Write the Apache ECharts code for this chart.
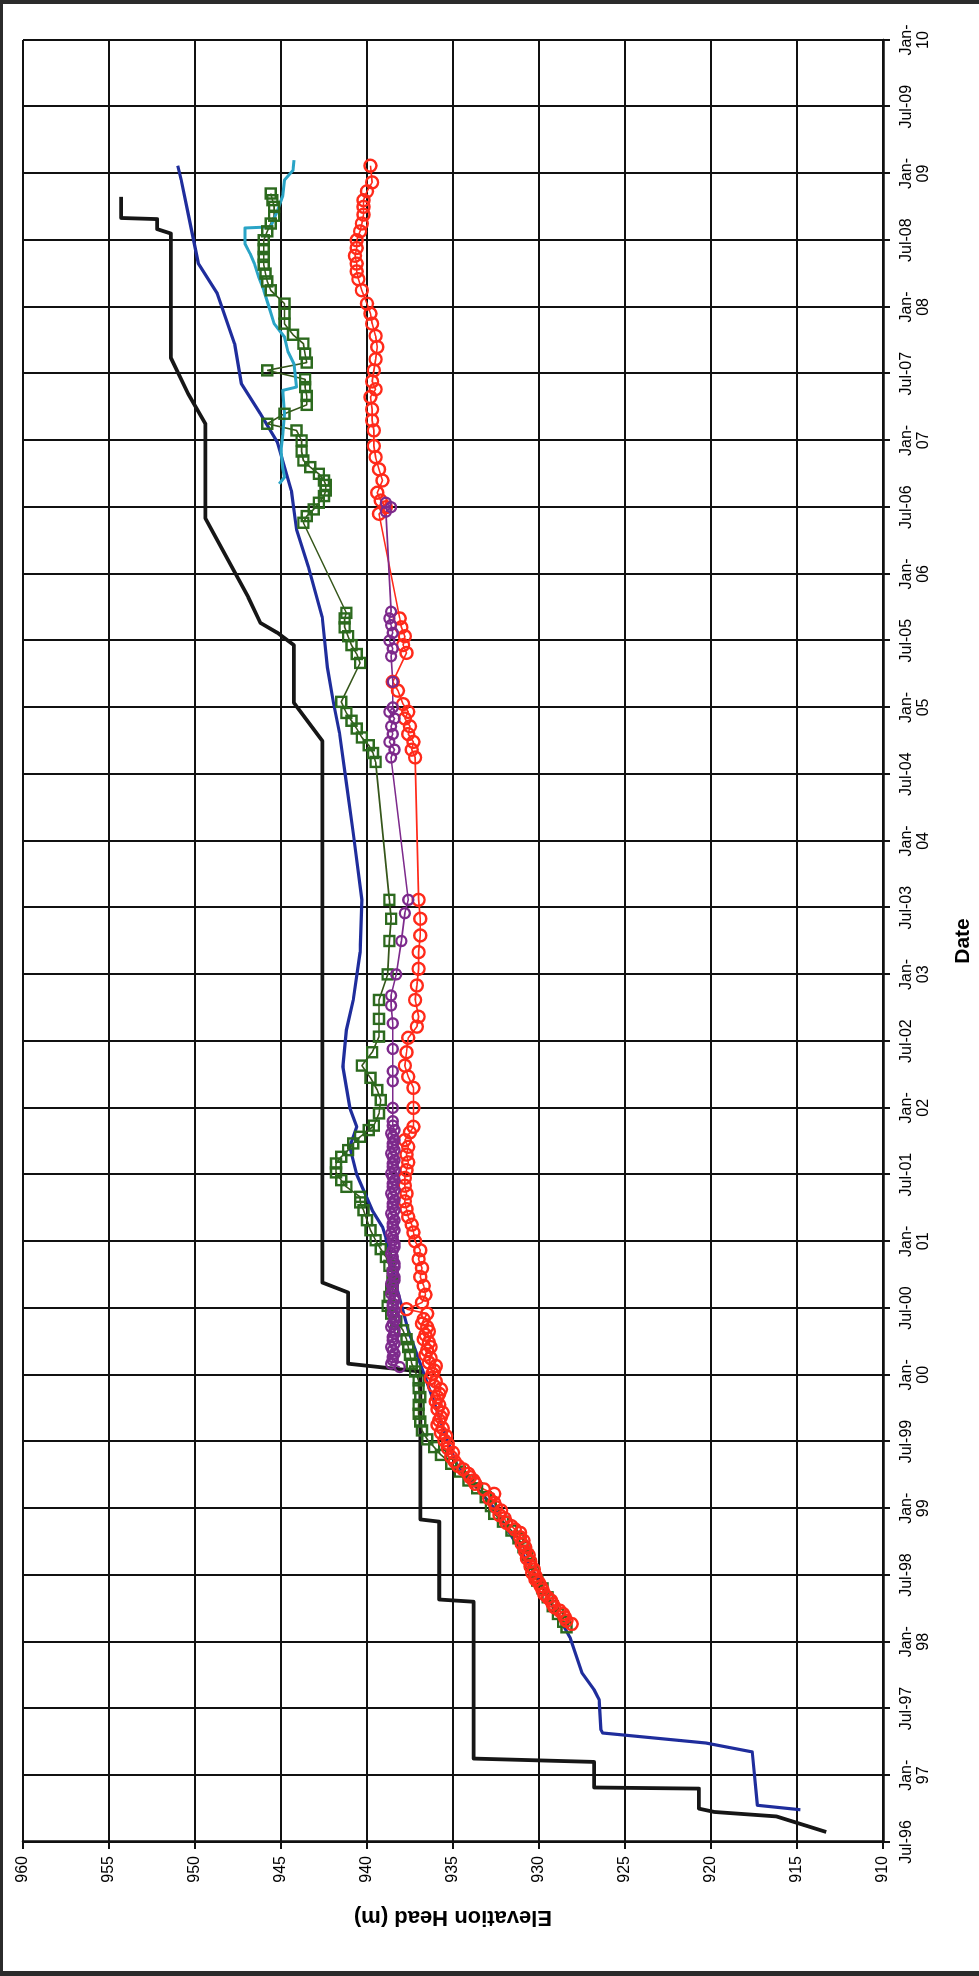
<!DOCTYPE html>
<html>
<head>
<meta charset="utf-8">
<title>Elevation Head vs Date</title>
<script src="https://cdn.jsdelivr.net/npm/echarts@6/dist/echarts.min.js"></script>
<style>
  html, body { margin: 0; padding: 0; background: #ffffff; }
  body { width: 979px; height: 1976px; position: relative; overflow: hidden; }
  /* the chart is laid out landscape and turned a quarter turn counter-clockwise */
  #chart {
    position: absolute; left: 0; top: 0;
    width: 1976px; height: 979px;
    transform-origin: 0 0;
    transform: translate(0, 1976px) rotate(-90deg);
  }
  #frame {
    position: absolute; left: 0; top: 0; width: 979px; height: 1976px;
    box-sizing: border-box;
    border-top: 4px solid #2b2b2b;
    border-left: 3px solid #2b2b2b;
    border-bottom: 5px solid #2b2b2b;
    pointer-events: none;
  }
</style>
</head>
<body>
<div id="chart"></div>
<div id="frame"></div>
<script>
// x values are months elapsed since 1 July 1996; y values are elevation head in metres.

const dateTicks = [
  'Jul-96', 'Jan-\n97', 'Jul-97', 'Jan-\n98', 'Jul-98', 'Jan-\n99', 'Jul-99',
  'Jan-\n00', 'Jul-00', 'Jan-\n01', 'Jul-01', 'Jan-\n02', 'Jul-02', 'Jan-\n03',
  'Jul-03', 'Jan-\n04', 'Jul-04', 'Jan-\n05', 'Jul-05', 'Jan-\n06', 'Jul-06',
  'Jan-\n07', 'Jul-07', 'Jan-\n08', 'Jul-08', 'Jan-\n09', 'Jul-09', 'Jan-\n10'
];

const headTicks = [910, 915, 920, 925, 930, 935, 940, 945, 950, 955, 960];

// black stepped record
const blackHead = [
  [0.9, 913.3], [2.3, 916.2], [2.7, 919.8], [3.0, 920.7], [4.8, 920.7], [4.9, 926.8],
  [7.2, 926.8], [7.5, 933.8], [21.6, 933.8], [21.8, 935.8], [28.8, 935.8], [29.0, 936.9],
  [42.3, 936.9], [43.0, 941.1], [49.4, 941.1], [50.3, 942.6], [99.0, 942.6], [102.4, 944.25],
  [107.6, 944.25], [108.7, 945.2], [109.6, 946.2], [111.9, 946.9], [119.0, 949.4],
  [127.5, 949.4], [130.2, 950.4], [133.4, 951.4], [144.6, 951.4], [145.0, 952.2],
  [145.9, 952.2], [146.0, 954.3], [147.9, 954.3]
];

// dark blue continuous record
const blueHead = [
  [2.9, 914.8], [3.3, 917.3], [8.1, 917.6], [8.9, 920.3], [9.8, 926.3], [10.1, 926.4],
  [12.8, 926.5], [13.7, 926.8], [15.2, 927.5], [18.4, 928.2], [24.0, 930.2], [30.0, 932.6],
  [34.0, 934.8], [36.0, 935.3], [40.0, 936.2], [43.0, 936.9], [46.0, 937.6], [50.0, 938.3],
  [54.3, 938.9], [55.3, 939.1], [56.8, 939.7], [60.0, 940.6], [62.5, 941.0], [64.3, 940.6],
  [66.0, 941.0], [69.7, 941.4], [73.0, 941.2], [75.7, 940.8], [80.0, 940.4], [84.7, 940.3],
  [90.7, 940.8], [95.2, 941.2], [99.7, 941.6], [102.4, 941.95], [105.6, 942.3], [110.1, 942.6],
  [114.6, 943.4], [118.0, 944.1], [121.5, 944.4], [125.8, 945.2], [128.4, 946.2], [131.1, 947.3],
  [134.7, 947.7], [139.2, 948.7], [141.9, 949.8], [146.4, 950.4], [149.4, 950.8], [150.7, 951.0]
];

// green square markers
const greenHead = [
  [19.3, 928.4], [19.8, 928.6], [20.5, 928.9], [21.2, 929.2], [22.0, 929.5], [22.8, 929.8],
  [23.5, 930.1], [24.3, 930.3], [25.0, 930.5], [25.8, 930.7], [26.5, 930.9], [27.3, 931.2],
  [28.0, 931.6], [28.8, 932.1], [29.5, 932.6], [30.2, 932.8], [31.0, 933.1], [31.8, 933.6],
  [32.5, 934.1], [33.3, 934.6], [34.0, 935.1], [34.8, 935.7], [35.5, 936.1], [36.2, 936.5],
  [37.0, 936.8], [37.8, 936.9], [38.5, 937.0], [39.3, 937.0], [40.0, 936.9], [40.8, 937.0],
  [41.5, 937.0], [42.3, 937.2], [43.0, 937.4], [43.8, 937.5], [44.5, 937.6], [45.2, 937.7],
  [46.0, 937.9], [46.8, 938.3], [47.5, 938.6], [48.2, 938.8], [49.0, 938.7], [49.7, 938.6],
  [50.4, 938.5], [51.1, 938.5], [51.8, 938.7], [52.6, 938.9], [53.3, 939.2], [54.1, 939.5],
  [55.0, 939.8], [55.9, 940.0], [56.8, 940.2], [57.5, 940.4], [58.0, 940.4], [58.9, 941.2],
  [59.5, 941.5], [60.2, 941.8], [61.0, 941.8], [61.6, 941.5], [62.2, 941.1], [62.8, 940.8],
  [63.4, 940.4], [64.0, 939.9], [64.4, 939.6], [65.5, 939.3], [66.7, 939.2], [67.6, 939.4],
  [68.7, 939.8], [69.8, 940.3], [71.0, 939.7], [72.4, 939.3], [74.0, 939.3], [75.7, 939.3],
  [78.0, 938.8], [81.0, 938.7], [83.0, 938.6], [84.7, 938.7],
  [97.1, 939.5], [97.9, 939.65], [98.6, 939.9], [99.3, 940.3], [100.1, 940.6], [100.8, 940.9],
  [101.5, 941.2], [102.5, 941.5],
  [106.0, 940.4], [106.8, 940.6], [107.6, 940.9], [108.4, 941.1], [109.2, 941.3], [110.0, 941.3],
  [110.5, 941.2],
  [118.6, 943.7], [119.2, 943.5], [119.8, 943.1], [120.4, 942.8], [121.0, 942.5], [121.5, 942.4],
  [122.0, 942.4], [122.4, 942.5], [123.0, 942.8], [123.6, 943.3], [124.2, 943.7], [125.0, 943.8],
  [126.0, 943.8], [126.9, 944.1], [127.5, 945.8], [128.4, 944.8], [129.2, 943.5], [130.0, 943.5],
  [130.8, 943.6], [131.5, 943.6], [132.3, 945.8], [133.0, 943.5], [133.8, 943.6], [134.7, 943.7],
  [135.5, 944.3], [136.5, 944.8], [137.4, 944.8], [138.3, 944.8], [139.5, 945.6], [140.3, 945.8],
  [141.0, 945.9], [141.8, 946.0], [142.5, 946.0], [143.2, 946.0], [144.0, 946.0], [144.8, 945.8],
  [145.5, 945.6], [146.2, 945.4], [147.0, 945.4], [147.6, 945.5], [148.2, 945.6]
];

// red circle markers
const redHead = [
  [19.6, 928.1], [19.9, 928.4], [20.2, 928.5], [20.5, 928.6], [20.8, 928.8], [21.1, 929.1],
  [21.4, 929.2], [21.7, 929.3], [22.0, 929.5], [22.3, 929.7], [22.7, 929.8], [23.0, 929.9],
  [23.3, 930.0], [23.6, 930.2], [23.9, 930.2], [24.2, 930.4], [24.5, 930.3], [24.8, 930.5],
  [25.2, 930.5], [25.5, 930.7], [25.8, 930.6], [26.1, 930.8], [26.5, 930.8], [26.8, 931.0],
  [27.1, 930.9], [27.4, 931.1], [27.8, 931.1], [28.1, 931.4], [28.4, 931.6], [28.7, 931.9],
  [29.1, 932.0], [29.4, 932.3], [29.8, 932.2], [30.1, 932.5], [30.5, 932.6], [30.9, 932.9],
  [31.3, 932.6], [31.7, 933.2], [32.2, 933.7], [32.5, 933.8], [32.8, 934.0], [33.1, 934.1],
  [33.5, 934.4], [33.8, 934.7], [34.2, 934.9], [34.6, 935.1], [35.0, 935.0], [35.4, 935.3],
  [35.8, 935.3], [36.1, 935.5], [36.5, 935.4], [36.8, 935.7], [37.2, 935.6], [37.5, 935.9],
  [37.9, 935.8], [38.2, 935.7], [38.6, 935.6], [38.9, 935.9], [39.3, 935.8], [39.6, 936.0],
  [40.0, 935.9], [40.3, 935.8], [40.7, 935.7], [41.0, 936.1], [41.4, 936.0], [41.7, 936.3],
  [42.1, 936.2], [42.4, 936.1], [42.8, 936.0], [43.1, 936.4], [43.5, 936.3], [43.8, 936.6],
  [44.2, 936.5], [44.5, 936.3], [44.9, 936.4], [45.2, 936.7], [45.6, 936.6], [45.9, 936.4],
  [46.3, 936.5], [46.6, 936.8], [47.0, 936.7], [47.5, 936.5], [47.9, 937.7], [48.5, 936.8],
  [49.2, 936.6], [50.0, 936.7], [50.8, 936.9], [51.6, 936.8], [52.4, 937.0], [53.2, 936.9],
  [54.0, 937.2], [54.8, 937.3], [55.5, 937.4], [56.2, 937.6], [56.9, 937.7], [57.6, 937.8],
  [58.3, 937.7], [59.0, 937.8], [59.7, 937.8], [60.4, 937.7], [61.1, 937.6], [61.8, 937.7],
  [62.5, 937.6], [63.1, 937.8], [63.8, 937.5], [64.3, 937.3],
  [66.0, 937.3], [67.8, 937.3], [68.8, 937.6], [69.8, 937.8], [71.0, 937.7], [72.3, 937.6],
  [73.3, 937.1], [74.2, 937.0], [75.7, 937.2], [77.0, 937.1], [78.5, 937.0], [80.0, 937.0],
  [81.5, 936.9], [83.0, 936.9], [84.7, 937.0],
  [97.5, 937.2], [98.2, 937.4], [98.9, 937.3], [99.6, 937.6], [100.3, 937.5], [101.0, 937.8],
  [101.6, 937.6], [102.3, 937.9], [103.5, 938.2], [104.3, 938.5],
  [106.9, 937.7], [107.6, 937.9], [108.4, 937.8], [109.2, 938.0], [110.0, 938.1],
  [119.4, 939.3], [120.0, 938.9], [120.6, 939.2], [121.3, 939.4], [122.4, 939.1], [123.4, 939.3],
  [124.5, 939.5], [125.5, 939.6], [126.9, 939.6], [127.8, 939.7], [128.8, 939.7], [129.9, 939.8],
  [130.6, 939.5], [131.3, 939.7], [132.3, 939.6], [133.3, 939.5], [134.4, 939.4], [135.4, 939.5],
  [136.5, 939.7], [137.4, 939.8], [138.3, 940.0], [139.5, 940.3], [140.5, 940.5], [141.2, 940.6],
  [141.9, 940.6], [142.6, 940.7], [143.3, 940.6], [144.0, 940.6], [144.8, 940.4], [145.5, 940.3],
  [146.3, 940.2], [147.0, 940.2], [147.6, 940.2], [148.4, 940.0], [149.2, 939.7], [150.7, 939.8]
];

// purple circle markers
const purpleHead = [
  [42.7, 938.1], [43.0, 938.6], [43.3, 938.5], [43.6, 938.5], [43.9, 938.4], [44.2, 938.5],
  [44.5, 938.6], [44.8, 938.4], [45.1, 938.5], [45.4, 938.5], [45.7, 938.4], [46.0, 938.4],
  [46.3, 938.6], [46.6, 938.5], [46.9, 938.4], [47.2, 938.4], [47.5, 938.5], [47.8, 938.4],
  [48.1, 938.5], [48.4, 938.5], [48.7, 938.4], [49.0, 938.4], [49.3, 938.6], [49.6, 938.5],
  [49.9, 938.5], [50.2, 938.6], [50.5, 938.4], [50.8, 938.4], [51.1, 938.5], [51.4, 938.5],
  [51.7, 938.4], [52.0, 938.4], [52.3, 938.5], [52.6, 938.5], [52.9, 938.6], [53.2, 938.5],
  [53.5, 938.4], [53.8, 938.4], [54.1, 938.5], [54.4, 938.5], [54.7, 938.6], [55.0, 938.4],
  [55.3, 938.5], [55.6, 938.5], [55.9, 938.4], [56.2, 938.5], [56.5, 938.6], [56.8, 938.4],
  [57.1, 938.5], [57.4, 938.5], [57.7, 938.4], [58.0, 938.5], [58.3, 938.6], [58.6, 938.4],
  [58.9, 938.5], [59.2, 938.5], [59.5, 938.4], [59.8, 938.5], [60.1, 938.6], [60.4, 938.4],
  [60.7, 938.5], [61.0, 938.5], [61.3, 938.4], [61.6, 938.5], [61.9, 938.6], [62.2, 938.4],
  [62.5, 938.5], [62.8, 938.5], [63.1, 938.4], [63.4, 938.5], [63.7, 938.6], [64.0, 938.4],
  [64.4, 938.5], [64.8, 938.5],
  [66.0, 938.5], [68.4, 938.5], [69.3, 938.5], [71.3, 938.5], [73.6, 938.5], [75.2, 938.6],
  [76.1, 938.6], [78.0, 938.3], [81.0, 938.0], [83.5, 937.8], [84.7, 937.6],
  [97.5, 938.6], [98.2, 938.4], [98.9, 938.7], [99.6, 938.5], [100.3, 938.6], [101.0, 938.4],
  [101.6, 938.7], [102.0, 938.5], [104.3, 938.5],
  [106.6, 938.6], [107.3, 938.5], [108.0, 938.7], [108.7, 938.5], [109.4, 938.6], [110.0, 938.7],
  [110.6, 938.6],
  [119.6, 938.9], [120.0, 938.6], [120.4, 938.9]
];

// cyan continuous record
const cyanHead = [
  [122.1, 945.1], [122.7, 944.8], [123.5, 944.9], [125.1, 945.0], [126.5, 944.9], [128.4, 944.8],
  [130.5, 944.9], [130.8, 944.1], [132.9, 944.25], [134.0, 944.6], [135.3, 944.8], [136.5, 945.4],
  [138.0, 945.7], [139.5, 946.0], [140.7, 946.3], [141.9, 946.55], [142.8, 946.8], [143.7, 947.1],
  [145.1, 947.1], [145.2, 945.6], [146.7, 945.2], [148.0, 944.9], [149.4, 944.8], [150.3, 944.3],
  [151.2, 944.25]
];

const FONT = '"Liberation Sans", Arial, Helvetica, sans-serif';
const INK = '#111111';

function markerSeries(name, data, color, symbol, size, lineColor) {
  return {
    name, type: 'line', data,
    symbol, symbolSize: size, showSymbol: true,
    itemStyle: { color: 'rgba(0,0,0,0)', borderColor: color, borderWidth: 2.4 },
    lineStyle: { color: lineColor || color, width: 1.6 },
    emphasis: { disabled: true }
  };
}

function plainSeries(name, data, color, width) {
  return {
    name, type: 'line', data,
    showSymbol: false, symbol: 'none',
    lineStyle: { color, width, join: 'round' },
    emphasis: { disabled: true }
  };
}

const chart = echarts.init(document.getElementById('chart'), null, { width: 1976, height: 979 });

chart.setOption({
  animation: false,
  backgroundColor: '#ffffff',
  grid: { left: 134, right: 40, top: 23, bottom: 87, containLabel: false },
  xAxis: {
    type: 'value', min: 0, max: 162, interval: 6,
    axisLine: { show: true, onZero: false, lineStyle: { color: INK, width: 2.5 } },
    axisTick: { show: true, inside: false, length: 7, lineStyle: { color: INK, width: 2 } },
    splitLine: { show: true, lineStyle: { color: INK, width: 2 } },
    axisLabel: {
      color: '#000', fontFamily: FONT, fontSize: 16, lineHeight: 17, margin: 15,
      showMinLabel: true, showMaxLabel: true,
      formatter: (v) => dateTicks[Math.round(v / 6)]
    },
    name: 'Date', nameLocation: 'middle', nameGap: 70,
    nameTextStyle: { color: '#000', fontFamily: FONT, fontSize: 21, fontWeight: 'bold' }
  },
  yAxis: {
    type: 'value', min: headTicks[0], max: headTicks[headTicks.length - 1], interval: 5,
    axisLine: { show: true, onZero: false, lineStyle: { color: INK, width: 2.5 } },
    axisTick: { show: true, inside: false, length: 7, lineStyle: { color: INK, width: 2 } },
    splitLine: { show: true, lineStyle: { color: INK, width: 2 } },
    axisLabel: {
      color: '#000', fontFamily: FONT, fontSize: 16, margin: 14,
      showMinLabel: true, showMaxLabel: true
    },
    name: 'Elevation Head (m)', nameLocation: 'middle', nameRotate: 90, nameGap: 64,
    nameTextStyle: { color: '#000', fontFamily: FONT, fontSize: 22, fontWeight: 'bold' }
  },
  series: [
    plainSeries('Blue', blueHead, '#1f2d9c', 3.2),
    plainSeries('Black', blackHead, '#161616', 3.8),
    markerSeries('Green', greenHead, '#2c6a1e', 'rect', 10, '#35561a'),
    markerSeries('Red', redHead, '#ff2a1a', 'circle', 12),
    markerSeries('Purple', purpleHead, '#7d2a8c', 'circle', 10),
    plainSeries('Cyan', cyanHead, '#2aa4c6', 3)
  ]
});
</script>
</body>
</html>
